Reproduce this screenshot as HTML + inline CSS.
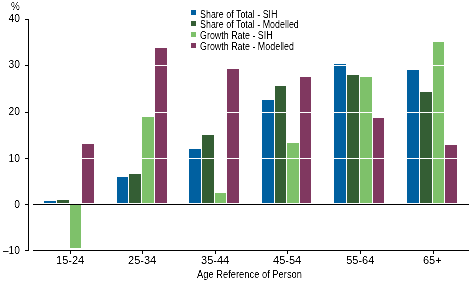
<!DOCTYPE html>
<html><head><meta charset="utf-8"><style>
html,body{margin:0;padding:0;background:#fff;}
body{width:472px;height:283px;position:relative;overflow:hidden;font-family:"Liberation Sans",sans-serif;color:#000;}
svg{position:absolute;left:0;top:0;}
.t{position:absolute;left:0;top:0;width:472px;height:283px;background:#fff;filter:grayscale(1) contrast(1.8);mix-blend-mode:multiply;}
.yl{position:absolute;left:0;width:20px;text-align:right;font-size:11px;line-height:12px;transform:scaleX(0.93);transform-origin:100% 0;}
.xl{position:absolute;top:254px;width:61px;text-align:center;font-size:11px;line-height:12px;}
.lg{position:absolute;left:200px;font-size:10px;line-height:10px;white-space:nowrap;transform:scaleX(0.89);transform-origin:0 0;}
.pct{position:absolute;left:10.5px;top:0px;font-size:11px;line-height:12px;transform:scaleX(0.9);transform-origin:0 0;}
.ttl{position:absolute;left:197px;top:268px;font-size:11px;line-height:12px;white-space:nowrap;transform:scaleX(0.85);transform-origin:0 0;}
</style></head><body>
<svg width="472" height="283" shape-rendering="crispEdges"><rect x="44" y="201" width="12" height="2" fill="#0060a0"/><rect x="57" y="200" width="12" height="3" fill="#345e34"/><rect x="70" y="205" width="11" height="43" fill="#7ec16a"/><rect x="82" y="144" width="12" height="59" fill="#803860"/><rect x="117" y="177" width="11" height="26" fill="#0060a0"/><rect x="129" y="174" width="12" height="29" fill="#345e34"/><rect x="142" y="117" width="12" height="86" fill="#7ec16a"/><rect x="155" y="48" width="12" height="155" fill="#803860"/><rect x="189" y="149" width="12" height="54" fill="#0060a0"/><rect x="202" y="135" width="12" height="68" fill="#345e34"/><rect x="215" y="193" width="11" height="10" fill="#7ec16a"/><rect x="227" y="69" width="12" height="134" fill="#803860"/><rect x="262" y="100" width="12" height="103" fill="#0060a0"/><rect x="275" y="86" width="11" height="117" fill="#345e34"/><rect x="287" y="143" width="12" height="60" fill="#7ec16a"/><rect x="300" y="77" width="11" height="126" fill="#803860"/><rect x="334" y="64" width="12" height="139" fill="#0060a0"/><rect x="347" y="75" width="12" height="128" fill="#345e34"/><rect x="360" y="77" width="12" height="126" fill="#7ec16a"/><rect x="373" y="118" width="11" height="85" fill="#803860"/><rect x="407" y="70" width="12" height="133" fill="#0060a0"/><rect x="420" y="92" width="12" height="111" fill="#345e34"/><rect x="433" y="42" width="11" height="161" fill="#7ec16a"/><rect x="445" y="145" width="12" height="58" fill="#803860"/><rect x="33" y="19" width="436" height="1" fill="#fff"/><rect x="33" y="65" width="436" height="1" fill="#fff"/><rect x="33" y="112" width="436" height="1" fill="#fff"/><rect x="33" y="158" width="436" height="1" fill="#fff"/><rect x="28" y="19" width="1" height="232" fill="#000"/><rect x="33" y="204" width="436" height="1" fill="#000"/><rect x="33" y="250" width="436" height="1" fill="#000"/><rect x="25" y="19" width="3" height="1" fill="#000"/><rect x="25" y="65" width="3" height="1" fill="#000"/><rect x="25" y="112" width="3" height="1" fill="#000"/><rect x="25" y="158" width="3" height="1" fill="#000"/><rect x="25" y="204" width="3" height="1" fill="#000"/><rect x="25" y="250" width="3" height="1" fill="#000"/><rect x="70" y="251" width="1" height="3" fill="#000"/><rect x="142" y="251" width="1" height="3" fill="#000"/><rect x="215" y="251" width="1" height="3" fill="#000"/><rect x="287" y="251" width="1" height="3" fill="#000"/><rect x="360" y="251" width="1" height="3" fill="#000"/><rect x="433" y="251" width="1" height="3" fill="#000"/><rect x="191" y="10" width="5" height="5" fill="#0060a0"/><rect x="191" y="21" width="5" height="5" fill="#345e34"/><rect x="191" y="32" width="5" height="5" fill="#7ec16a"/><rect x="191" y="43" width="5" height="5" fill="#803860"/></svg>
<div class="t">
<div class="pct">%</div>
<div class="yl" style="top:12px">40</div><div class="yl" style="top:58px">30</div><div class="yl" style="top:105px">20</div><div class="yl" style="top:152px">10</div><div class="yl" style="top:198px">0</div><div class="yl" style="top:244px">–10</div><div class="xl" style="left:39.599999999999994px">15-24</div><div class="xl" style="left:111.6px">25-34</div><div class="xl" style="left:184.6px">35-44</div><div class="xl" style="left:256.6px">45-54</div><div class="xl" style="left:329.8px">55-64</div><div class="xl" style="left:401.8px">65+</div><div class="lg" style="top:10px">Share of Total - SIH</div><div class="lg" style="top:20px">Share of Total - Modelled</div><div class="lg" style="top:31px">Growth Rate - SIH</div><div class="lg" style="top:42px">Growth Rate - Modelled</div>
<div class="ttl">Age Reference of Person</div>
</div>
</body></html>
